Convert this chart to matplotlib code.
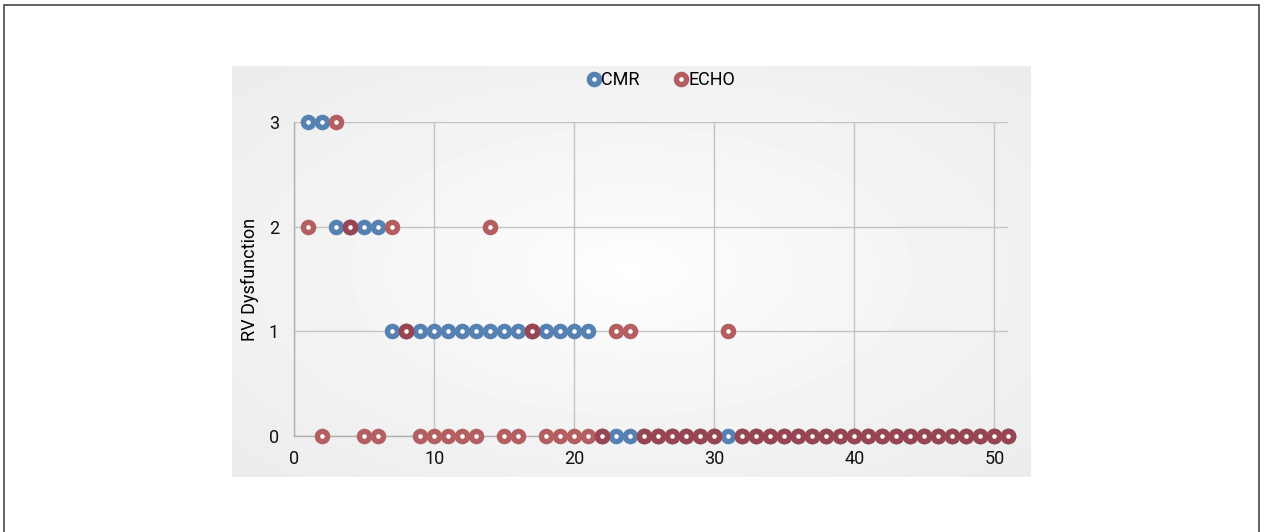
import matplotlib.pyplot as plt
import numpy as np
from matplotlib.patches import Rectangle

# dati: grado di disfunzione RV per paziente (CMR vs ECHO)
patients = list(range(1, 52))
cmr = [3, 3, 2, 2, 2, 2, 1, 1, 1, 1,
       1, 1, 1, 1, 1, 1, 1, 1, 1, 1,
       1, 0, 0, 0, 0, 0, 0, 0, 0, 0,
       0, 0, 0, 0, 0, 0, 0, 0, 0, 0,
       0, 0, 0, 0, 0, 0, 0, 0, 0, 0,
       0]
echo = [2, 0, 3, 2, 0, 0, 2, 1, 0, 0,
        0, 0, 0, 2, 0, 0, 1, 0, 0, 0,
        0, 0, 1, 1, 0, 0, 0, 0, 0, 0,
        1, 0, 0, 0, 0, 0, 0, 0, 0, 0,
        0, 0, 0, 0, 0, 0, 0, 0, 0, 0,
        0]
xticks = [0, 10, 20, 30, 40, 50]
yticks = [0, 1, 2, 3]

plt.rcParams['font.family'] = ['Roboto', 'DejaVu Sans']

W, H = 1267, 532
fig = plt.figure(figsize=(W/100, H/100), dpi=100)

# cornice esterna
fig.add_artist(Rectangle((4/W, -0.02), (1259-4)/W, 1.02 - 5/H,
                         transform=fig.transFigure, fill=False,
                         edgecolor='#555555', lw=1.3))

# sfondo grigio con gradiente radiale
bg = fig.add_axes([232/W, (H-477)/H, (1031-232)/W, (477-66)/H])
gx, gy = np.meshgrid(np.linspace(-1, 1, 200), np.linspace(-1, 1, 100))
r = np.sqrt(gx**2 + gy**2) / np.sqrt(2)
bg.imshow(1 - 0.075*r**0.8, cmap='gray', vmin=0, vmax=1, aspect='auto',
          extent=[0, 1, 0, 1], interpolation='bilinear')
bg.set_axis_off()

ax = fig.add_axes([294.3/W, (H-436)/H, (1008.3-294.3)/W, (436-122.3)/H])
ax.patch.set_alpha(0)

blue = '#5581b3'
red = '#b35f62'
dark = '#974553'   # punti dove CMR e ECHO coincidono
ms, mew = 7.3, 3.9

ax.plot(patients, cmr, 'o', ls='none', ms=ms, mfc='white', mec=blue,
        mew=mew, clip_on=False, label='CMR', zorder=3)
ax.plot(patients, echo, 'o', ls='none', ms=ms, mfc='white', mec=red,
        mew=mew, clip_on=False, label='ECHO', zorder=4)

# sovrapposizioni
pc = np.array(patients)
same = np.array(cmr) == np.array(echo)
ax.plot(pc[same], np.array(echo)[same], 'o', ls='none', ms=ms, mfc='white',
        mec=dark, mew=mew, clip_on=False, zorder=5)

ax.set_xlim(0, 51)
ax.set_ylim(0, 3)
ax.set_xticks(xticks)
ax.set_yticks(yticks)
ax.grid(True, color='#c4c4c4', lw=1)
ax.set_axisbelow(True)
for s in ['top', 'right']:
    ax.spines[s].set_visible(False)
for s in ['left', 'bottom']:
    ax.spines[s].set_color('#b0b0b0')
    ax.spines[s].set_linewidth(1)
ax.tick_params(length=0, labelsize=13, colors='#111111')
ax.tick_params(axis='y', pad=11)
ax.tick_params(axis='x', pad=10)
ax.set_ylabel('RV Dysfunction', fontsize=13, labelpad=7)

fig.legend(loc='center', bbox_to_anchor=(662/W, (H-80)/H), ncol=2,
           frameon=False, fontsize=13, handlelength=0.6, handletextpad=0.1,
           columnspacing=2.0, numpoints=1)

fig.savefig('out.png', dpi=100)
